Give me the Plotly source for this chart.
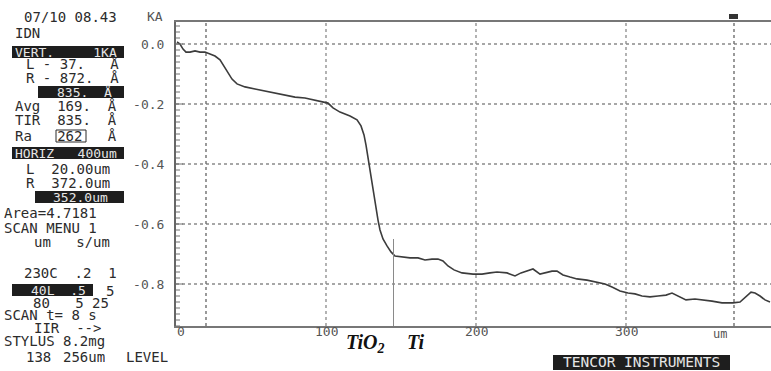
import plotly.graph_objects as go

# ---------------- data ----------------
scan_um = [0.67, 2.67, 4.67, 6.67, 9.33, 12.67, 16.0, 19.33, 22.67, 26.0, 29.33, 32.0,
           34.67, 37.33, 40.67, 46.0, 52.67, 59.33, 66.0, 72.67, 79.33, 86.0, 92.67,
           97.33, 101.33, 104.67, 109.33, 116.0, 120.67, 123.33, 125.33, 126.67, 128.0,
           129.33, 130.67, 132.0, 133.33, 134.67, 136.0, 138.0, 140.67, 143.33, 146.0,
           150.67, 156.0, 161.33, 166.0, 170.67, 174.67, 178.0, 181.33, 185.33, 190.67,
           198.0, 204.0, 209.33, 214.0, 220.67, 226.0, 230.0, 234.0, 238.0, 242.67,
           246.67, 250.67, 254.0, 258.0, 262.67, 267.33, 274.0, 280.67, 286.0, 290.67,
           296.0, 301.33, 306.0, 310.67, 316.0, 321.33, 326.67, 330.67, 333.33, 336.0,
           340.0, 346.0, 351.33, 357.33, 364.0, 371.33, 376.0, 380.0, 383.33, 386.0,
           389.33, 392.67, 396.0]
depth_ka = [0.007, 0.0, -0.017, -0.027, -0.027, -0.023, -0.027, -0.027, -0.033, -0.040,
            -0.053, -0.073, -0.097, -0.117, -0.133, -0.143, -0.150, -0.157, -0.163,
            -0.170, -0.177, -0.180, -0.187, -0.193, -0.197, -0.213, -0.227, -0.240,
            -0.253, -0.273, -0.303, -0.337, -0.380, -0.420, -0.460, -0.503, -0.547,
            -0.587, -0.620, -0.650, -0.673, -0.693, -0.707, -0.710, -0.713, -0.713,
            -0.720, -0.717, -0.717, -0.723, -0.740, -0.753, -0.763, -0.767, -0.767,
            -0.763, -0.760, -0.763, -0.773, -0.763, -0.757, -0.750, -0.767, -0.763,
            -0.757, -0.757, -0.770, -0.777, -0.783, -0.787, -0.793, -0.800, -0.810,
            -0.823, -0.830, -0.833, -0.840, -0.843, -0.840, -0.837, -0.830, -0.837,
            -0.843, -0.853, -0.850, -0.853, -0.857, -0.863, -0.863, -0.860, -0.843,
            -0.827, -0.830, -0.840, -0.853, -0.860]

x_tick_vals = [0, 100, 200, 300]
x_tick_text = ["0", "100", "200", "300"]
y_tick_vals = [0.0, -0.2, -0.4, -0.6, -0.8]
y_tick_text = ["0.0", "-0.2", "-0.4", "-0.6", "-0.8"]

cursor_left_um = 20.0
cursor_right_um = 372.0
boundary_um = 145.0
boundary_top_ka = -0.65

# ---------------- geometry helpers ----------------
W, H = 771, 371
L, R, T, B = 176, 0, 22, 45
PW, PH = W - L - R, H - T - B
Y_MIN, Y_MAX = -(H - B - 44) / 300, (44 - T) / 300


def px(x):
    return (x - L) / PW


def py(y):
    return (H - B - y) / PH


MONO = "DejaVu Sans Mono"
INK = "#2b2b2b"
GRID = dict(color="#8a8a8a", width=1.3, dash="dot")

fig = go.Figure()
fig.add_trace(go.Scatter(x=scan_um, y=depth_ka, mode="lines",
                         line=dict(color="#3c3c3c", width=1.6), hoverinfo="skip",
                         showlegend=False))

shapes = []
for v in y_tick_vals:
    shapes.append(dict(type="line", xref="paper", yref="y", x0=0, x1=1, y0=v, y1=v,
                       line=GRID, layer="below"))
for v in x_tick_vals[1:]:
    shapes.append(dict(type="line", xref="x", yref="paper", x0=v, x1=v, y0=0, y1=1,
                       line=GRID, layer="below"))
for cx in (cursor_left_um, cursor_right_um):
    shapes.append(dict(type="line", xref="x", yref="paper", x0=cx, x1=cx, y0=0, y1=1,
                       line=dict(color="#6f6f6f", width=1.4, dash="dot"), layer="below"))
# ruler ticks on the vertical axis
n_ruler = int(round((Y_MAX - Y_MIN) / 0.02))
for i in range(n_ruler + 1):
    v = round(0.06 - 0.02 * i, 3)
    if v < Y_MIN:
        break
    major = abs(round(v / 0.2) * 0.2 - v) < 1e-6
    shapes.append(dict(type="line", xref="paper", yref="y", x0=0,
                       x1=(7 if major else 4) / PW, y0=v, y1=v,
                       line=dict(color="#707070", width=1)))
# TiO2 / Ti boundary marker
shapes.append(dict(type="line", xref="x", yref="y", x0=boundary_um, x1=boundary_um,
                   y0=boundary_top_ka, y1=Y_MIN, line=dict(color="#8a8a8a", width=1)))
# cursor flag at top
shapes.append(dict(type="rect", xref="paper", yref="paper", x0=px(729), x1=px(738),
                   y0=py(19), y1=py(14), fillcolor="#333", line=dict(width=0)))

# black inverted boxes
boxes = [(12, 124, 46, 58), (38, 124, 86, 98), (12, 124, 147, 159),
         (35, 124, 191, 203), (12, 93, 284, 296), (553, 730, 355, 370)]
for x0, x1, y0, y1 in boxes:
    shapes.append(dict(type="rect", xref="paper", yref="paper", x0=px(x0), x1=px(x1),
                       y0=py(y1), y1=py(y0), fillcolor="#1e1e1e", line=dict(width=0),
                       layer="below"))
# boxed Ra value
shapes.append(dict(type="rect", xref="paper", yref="paper", x0=px(56), x1=px(86),
                   y0=py(142), y1=py(130), line=dict(color=INK, width=1)))

annotations = []


def txt(x, y, s, color=INK, size=14, anchor="left", family=MONO, h="auto",
        xref="paper"):
    if h == "auto":
        h = 16 if any(c in s for c in "Ågypq") else 13
    a = dict(xref=xref, yref="paper", x=px(x) if xref == "paper" else x, y=py(y),
             text=s, showarrow=False, xanchor=anchor, yanchor="middle",
             font=dict(family=family, size=size, color=color), borderpad=0)
    if h:
        a["height"] = h
    annotations.append(a)


S = "\u00a0"
panel = [
    (23, 17, "07/10 08.43"),
    (14, 32, "IDN"),
    (25, 64, "L" + S + "-" + S + "37." + S * 3 + "Å"),
    (25, 78, "R" + S + "-" + S + "872." + S * 2 + "Å"),
    (14, 106, "Avg" + S * 2 + "169." + S * 2 + "Å"),
    (14, 120, "TIR" + S * 2 + "835." + S * 2 + "Å"),
    (14, 136, "Ra" + S * 3 + "262" + S * 3 + "Å"),
    (25, 168, "L" + S * 2 + "20.00um"),
    (25, 182, "R" + S * 2 + "372.0um"),
    (3, 212, "Area=4.7181"),
    (3, 228, "SCAN" + S + "MENU" + S + "1"),
    (33, 242, "um" + S * 3 + "s/um"),
    (23, 272, "230C" + S * 2 + ".2" + S * 2 + "1"),
    (105, 290, "5"),
    (32, 302, "80" + S * 3 + "5" + S + "25"),
    (3, 314, "SCAN" + S + "t=" + S + "8" + S + "s"),
    (33, 327, "IIR" + S * 2 + "-->"),
    (3, 341, "STYLUS" + S + "8.2mg"),
    (25, 356, "138"),
    (62, 356, "256um"),
    (125, 356, "LEVEL"),
]
for x, y, s in panel:
    txt(x, y, s)

inv = "#e6e6e6"
txt(14, 52, "VERT." + S * 5 + "1KA", color=inv, size=13, h=12)
txt(56, 92, "835." + S * 2 + "Å", color=inv, size=13, h=15)
txt(14, 153, "HORIZ" + S * 3 + "400um", color=inv, size=13, h=12)
txt(52, 197, "352.0um", color=inv, size=13, h=12)
txt(30, 290, "40L" + S * 2 + ".5", color=inv, size=13, h=12)
txt(641, 362, "TENCOR" + S + "INSTRUMENTS", color=inv, size=14.5, anchor="center",
    h=14)

txt(164, 17, "KA", color="#555", size=13, anchor="right")

# x tick labels, placed through the x scale just under the axis line
for v, s in zip(x_tick_vals, x_tick_text):
    txt(v, 332, s, color="#555", size=13, anchor="left" if v == 0 else "center",
        xref="x")
txt(720, 333, "um", color="#555", size=12, anchor="center")

txt(345, 343, "<b><i>TiO<sub>2</sub></i></b>", color="#111", size=20,
    family="Liberation Serif", h=None)
txt(406, 342, "<b><i>Ti</i></b>", color="#111", size=20, family="Liberation Serif",
    h=None)

fig.update_layout(
    width=W, height=H, margin=dict(l=L, r=R, t=T, b=B, pad=0),
    paper_bgcolor="white", plot_bgcolor="white",
    shapes=shapes, annotations=annotations, showlegend=False,
    xaxis=dict(range=[0, PW / 1.5], showticklabels=False, showgrid=False,
               zeroline=False, showline=True, linecolor="#777", linewidth=1.5,
               mirror=True, ticks="", fixedrange=True),
    yaxis=dict(range=[Y_MIN, Y_MAX], tickvals=y_tick_vals, ticktext=y_tick_text,
               showgrid=False, zeroline=False, showline=True, linecolor="#666",
               linewidth=2, ticks="", ticklabelstandoff=7,
               tickfont=dict(family=MONO, size=13, color="#555"), fixedrange=True),
)

fig.write_html("out.html", config={"displayModeBar": False},
               post_script="document.body.style.margin='0';")
